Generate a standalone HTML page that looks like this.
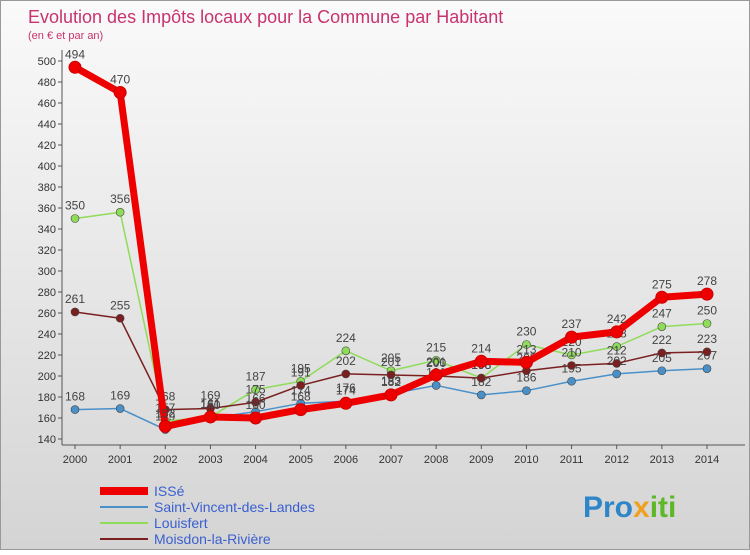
<!DOCTYPE html>
<html><head><meta charset="utf-8"><style>
body{margin:0;width:750px;height:550px;overflow:hidden;font-family:"Liberation Sans",sans-serif}
</style></head><body>
<svg id="c" width="750" height="550" xmlns="http://www.w3.org/2000/svg">
<defs><linearGradient id="bg" x1="0" y1="0" x2="0" y2="1"><stop offset="0" stop-color="#fafafa"/><stop offset="1" stop-color="#d4d4d4"/></linearGradient></defs>
<rect width="750" height="550" fill="url(#bg)"/>
<rect x="0.5" y="0.5" width="749" height="549" fill="none" stroke="#999"/>
<text x="28" y="23" font-size="18" fill="#c8336e">Evolution des Impôts locaux pour la Commune par Habitant</text>
<text x="28" y="39" font-size="11" fill="#c8336e">(en € et par an)</text>
<g id="axes"></g><g id="series"></g><g id="legend"></g>
<text x="583" y="517" font-size="30" fill="#2e86c8" font-weight="bold" style="font-weight:600">Pro<tspan fill="#f0a020">x</tspan><tspan fill="#5cb828">iti</tspan></text>
</svg>
<script>
const years=[2000,2001,2002,2003,2004,2005,2006,2007,2008,2009,2010,2011,2012,2013,2014];
const yTicks=[140,160,180,200,220,240,260,280,300,320,340,360,380,400,420,440,460,480,500];
const issé=[494,470,152,161,160,168,174,182,201,214,213,237,242,275,278];
const saintVincent=[168,169,149,160,166,174,176,183,191,182,186,195,202,205,207];
const louisfert=[350,356,157,161,187,195,224,205,215,198,230,220,228,247,250];
const moisdon=[261,255,168,169,175,191,202,201,200,198,205,210,212,222,223];
const NS="http://www.w3.org/2000/svg";
const X=i=>75+i*(707-75)/14, Y=v=>439-(v-140)*(439-61)/360;
function mk(t,a,p){const e=document.createElementNS(NS,t);for(const k in a)e.setAttribute(k,a[k]);p.appendChild(e);return e;}
const ax=document.getElementById('axes');
let l=mk('line',{x1:62,y1:50,x2:62,y2:445,stroke:'#555'},ax);


l=mk('line',{x1:62,y1:445,x2:745,y2:445,stroke:'#555'},ax);


yTicks.forEach(v=>{
 mk('line',{x1:58,y1:Y(v),x2:62,y2:Y(v),stroke:'#555'},ax);
 const t=mk('text',{x:56,y:Y(v)+4,'font-size':11,'text-anchor':'end',fill:'#333'},ax);t.textContent=v;
 
 
});
years.forEach((y,i)=>{
 mk('line',{x1:X(i),y1:445,x2:X(i),y2:449,stroke:'#555'},ax);
 const t=mk('text',{x:X(i),y:463,'font-size':11,'text-anchor':'middle',fill:'#333'},ax);t.textContent=y;
 
 
});
const sg=document.getElementById('series');
const S=[
 {n:'saint-vincent',d:saintVincent,c:'#4a90c8',w:1.5,r:4},
 {n:'louisfert',d:louisfert,c:'#8fdc5a',w:1.5,r:4},
 {n:'moisdon',d:moisdon,c:'#7a2020',w:1.5,r:4},
 {n:'isse',d:issé,c:'#ee0000',w:7,r:6}];
S.forEach(s=>{
 const g=mk('g',{},sg);
 
 
 const p=mk('polyline',{points:s.d.map((v,i)=>X(i)+','+Y(v)).join(' '),fill:'none',stroke:s.c,'stroke-width':s.w,'stroke-linejoin':'round'},g);
 
 
 s.d.forEach((v,i)=>{
  const c=mk('circle',{cx:X(i),cy:Y(v),r:s.r,fill:s.c,stroke:s.w>2?'#c00':'#444','stroke-width':s.w>2?1:0.6},g);
  
  
  const t=mk('text',{x:X(i),y:Y(v)-9,'font-size':12,'text-anchor':'middle',fill:'#444'},g);t.textContent=v;
  
  
 });
});
const lg=document.getElementById('legend');
const L=[['ISSé','#ee0000',8],['Saint-Vincent-des-Landes','#4a90c8',2],['Louisfert','#8fdc5a',2],['Moisdon-la-Rivière','#7a2020',2]];
L.forEach((e,i)=>{
 const y=491+i*16;
 const ln=mk('line',{x1:100,y1:y,x2:148,y2:y,stroke:e[1],'stroke-width':e[2]},lg);
 
 
 const t=mk('text',{x:154,y:y+5,'font-size':14,fill:'#3a5fd0'},lg);t.textContent=e[0];
 
 
});
</script>
</body></html>
